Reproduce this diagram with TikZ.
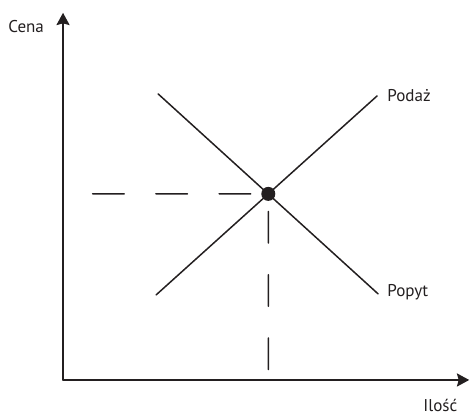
\documentclass[tikz,border=0pt]{standalone}
\usepackage{fontspec}
\setmainfont{PT Sans}
\usepackage{tkz-euclide}
\usetikzlibrary{arrows.meta}
\definecolor{ink}{RGB}{35,31,32}
\tikzset{>={Stealth[length=7pt,width=7.5pt,inset=1pt]},
  curve/.style={line width=0.85pt,color=ink},
  guide/.style={curve,dash pattern=on 18pt off 18pt,dash phase=26pt},
  tag/.style={anchor=base west,inner sep=0pt,text=ink,font=\fontsize{9.7}{11}\selectfont}}

\begin{document}
\begin{tikzpicture}[scale=0.02]
\useasboundingbox (0,0) rectangle (470,416);
\tkzDefPoints{63/36/O, 63/403/Y, 469/36/X, 156/121/A, 377/320/B, 158/322/C, 378/122/D}
\tkzInterLL(A,B)(C,D) \tkzGetPoint{E}
\coordinate (P) at (E -| O);
\coordinate (Q) at (E |- O);
\tkzDrawSegments[curve,->](O,Y O,X)
\tkzDrawSegments[curve](A,B C,D)
\tkzDrawSegments[guide](E,P E,Q)
\fill[ink] (E) circle (7);
\node[tag] (cena) at (8,383) {Cena};
\node[tag] (ilosc) at (423,5) {Ilość};
\node[tag] (podaz) at (387,314) {Podaż};
\node[tag] (popyt) at (387,119) {Popyt};
\end{tikzpicture}
\end{document}
